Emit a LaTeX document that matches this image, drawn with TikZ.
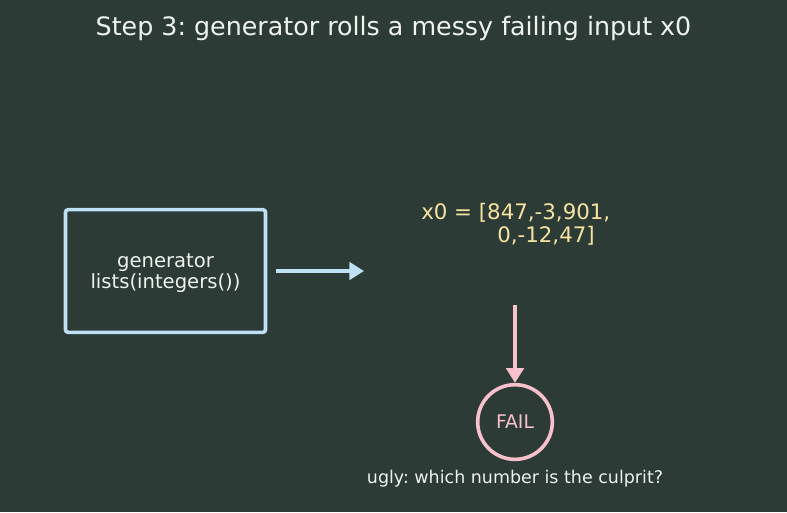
\documentclass[tikz,border=0pt]{standalone}
\usepackage{fontspec}
\setmainfont{DejaVu Sans}
\usetikzlibrary{arrows.meta}
\frenchspacing
\definecolor{bg}{HTML}{2C3B35}
\definecolor{boxblue}{HTML}{BFE1F6}
\definecolor{txtw}{HTML}{EEF3EE}
\definecolor{txty}{HTML}{F7E3A1}
\definecolor{pinkc}{HTML}{F8C1CD}
\tikzset{
  genbox/.style={draw=boxblue, line width=2.7pt, rounded corners=2pt, minimum width=150pt, minimum height=92pt},
  gentext/.style={text=txtw, align=center, inner sep=0pt, font=\fontsize{14.7}{15.8}\selectfont},
  bluearrow/.style={draw=boxblue, line width=2.7pt, -{Triangle[length=11pt,width=13pt]}},
  pinkarrow/.style={draw=pinkc, line width=2.7pt, -{Triangle[length=11pt,width=13pt]}},
  failnode/.style={draw=pinkc, circle, line width=2.7pt, minimum size=56pt, inner sep=0pt, text=pinkc, font=\fontsize{14.1}{15}\selectfont},
  valtext/.style={text=txty, align=left, font=\fontsize{16}{17.3}\selectfont, inner sep=0pt},
  capt/.style={text=txtw, font=\fontsize{13.1}{15}\selectfont, inner sep=0pt},
  titletext/.style={text=txtw, font=\fontsize{19}{22}\selectfont, inner sep=0pt}
}
\begin{document}
\begin{tikzpicture}[x=0.75pt,y=-0.75pt]
\fill[bg] (0,0) rectangle (787,512);
\useasboundingbox (0,0) rectangle (787,512);
\node[titletext] (title) at (393.5,29) {Step 3: generator rolls a messy failing input x0};
\node[genbox] (gen) at (165.5,271) {};
\node[gentext] (gentext) at (165.5,273) {generator\\lists(integers())};
\coordinate (a1e) at (364,271);
\node[valtext, anchor=north west] (x0) at (421,203) {x0 = [847,-3,901,\\\hspace*{57pt}0,-12,47]};
\coordinate (p1s) at (515,305);
\node[failnode] (fail) at (515,422) {FAIL};
\node[capt] (cap) at (515,479) {ugly: which number is the culprit?};
\draw[bluearrow] (gen.east) ++(9,0) -- (a1e);
\draw[pinkarrow] (p1s) -- (fail.north);
\end{tikzpicture}
\end{document}
